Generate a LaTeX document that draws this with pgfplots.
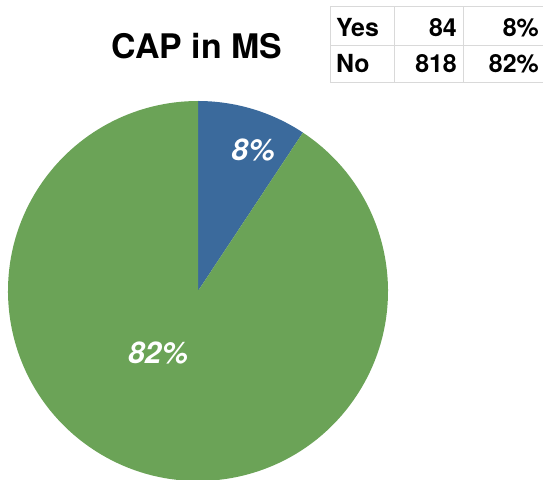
\documentclass[border=0pt]{standalone}
\usepackage{pgfplots}
\usepackage{pgfplotstable}
\pgfplotsset{compat=1.18}
\usepackage{fontspec}
\setmainfont{TeX Gyre Heros}

\definecolor{capblue}{HTML}{3B6A9C}
\definecolor{capgreen}{HTML}{6BA357}
\definecolor{rulegray}{HTML}{D9D9D9}

% answer, count, shown percentage
\pgfplotstableread{
label count pct
Yes 84 8
No 818 82
}\capdata

\begin{document}
\begin{tikzpicture}
\pgfplotstablegetelem{0}{count}\of\capdata \edef\nyes{\pgfplotsretval}
\pgfplotstablegetelem{1}{count}\of\capdata \edef\nno{\pgfplotsretval}
\pgfmathsetmacro\share{\nyes/(\nyes+\nno)}
\pgfmathsetmacro\split{90-360*\share}
\useasboundingbox (0,0) rectangle (543bp,480bp);
\clip (0,0) rectangle (543bp,480bp);
\begin{axis}[x=1bp, y=1bp,
	xmin=0, xmax=543, ymin=0, ymax=480,
	hide axis, clip=false,
	at={(0,0)}, anchor=south west]
	% pie
	\fill[capblue] (axis cs:198,189) -- ++(90:190bp)
		arc[start angle=90, end angle=\split, radius=190bp] -- cycle;
	\fill[capgreen] (axis cs:198,189) -- ++(\split:190bp)
		arc[start angle=\split, end angle=-270, radius=190bp] -- cycle;
	\node[white, font=\fontsize{30}{36}\selectfont\bfseries\itshape] at (axis cs:253,330) {8\%};
	\node[white, font=\fontsize{30}{36}\selectfont\bfseries\itshape] at (axis cs:158,127) {82\%};
	% title
	\node[anchor=base, font=\fontsize{34}{40}\selectfont\bfseries] at (axis cs:197,421) {CAP in MS};
	% data table
	\draw[rulegray, line width=1bp] (axis cs:330,473) -- (axis cs:560,473)
		(axis cs:330,434) -- (axis cs:560,434)
		(axis cs:330,397) -- (axis cs:560,397)
		(axis cs:330,473) -- (axis cs:330,397)
		(axis cs:394,473) -- (axis cs:394,397)
		(axis cs:463,473) -- (axis cs:463,397);
	\begin{scope}[every node/.style={font=\fontsize{25}{30}\selectfont\bfseries, inner sep=0pt}]
		\node[anchor=base west] at (axis cs:336,443) {Yes};
		\node[anchor=base east] at (axis cs:457,443) {84};
		\node[anchor=base east] at (axis cs:539,443) {8\%};
		\node[anchor=base west] at (axis cs:336,407) {No};
		\node[anchor=base east] at (axis cs:457,407) {818};
		\node[anchor=base east] at (axis cs:539,407) {82\%};
	\end{scope}
\end{axis}
\end{tikzpicture}
\end{document}
